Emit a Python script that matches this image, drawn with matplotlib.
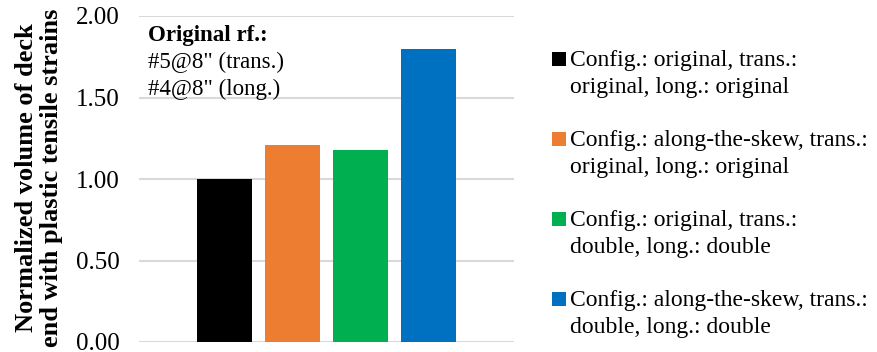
import matplotlib
matplotlib.use("Agg")
import matplotlib.pyplot as plt
from matplotlib.patches import Rectangle

plt.rcParams["font.family"] = ["Liberation Serif", "DejaVu Serif"]

# Data
configs = [
    "Config.: original, trans.:\noriginal, long.: original",
    "Config.: along-the-skew, trans.:\noriginal, long.: original",
    "Config.: original, trans.:\ndouble, long.: double",
    "Config.: along-the-skew, trans.:\ndouble, long.: double",
]
values = [1.00, 1.21, 1.18, 1.80]
colors = ["#000000", "#ED7D31", "#00B050", "#0070C0"]
yticks = [0.00, 0.50, 1.00, 1.50, 2.00]
ytick_labels = ["0.00", "0.50", "1.00", "1.50", "2.00"]
ylabel = "Normalized volume of deck\nend with plastic tensile strains"
note_title = "Original rf.:"
note_lines = ['#5@8" (trans.)', '#4@8" (long.)']

W, H = 878, 352
fs_note = 16.5
fs_leg = 17
fs_tick = 18
fs_ylab = 19
fig = plt.figure(figsize=(W / 100, H / 100), dpi=100)
ax = fig.add_axes([139 / W, 1 - 342 / H, 375 / W, 326 / H])

x = list(range(len(values)))
ax.bar(x, values, width=0.81, color=colors, zorder=3)
ax.set_xlim(-1.26, 4.26)
ax.set_ylim(0, 2.0)
ax.set_yticks(yticks)
ax.set_yticklabels(ytick_labels, fontsize=fs_tick)
ax.set_xticks([])
ax.tick_params(axis="y", length=0, pad=14)
for s in ax.spines.values():
    s.set_visible(False)
ax.yaxis.grid(True, color="#D9D9D9", linewidth=1.5, zorder=0)
ax.set_axisbelow(True)

fig.text(39 / W, 1 - 178 / H, ylabel, rotation=90, ha="center", va="center",
         fontsize=fs_ylab, fontweight="bold", multialignment="center", linespacing=1.15)

# Reinforcement note inside the axes
fig.text(148 / W, 1 - 25 / H, note_title, ha="left", va="top",
         fontsize=fs_note, fontweight="bold")
for i, line in enumerate(note_lines):
    fig.text(148 / W, 1 - (52 + 27 * i) / H, line, ha="left", va="top", fontsize=fs_note)

# Legend: square markers aligned with the first line of each entry
for i, (lab, col) in enumerate(zip(configs, colors)):
    top = 52 + 80 * i
    fig.patches.append(Rectangle((552 / W, 1 - (top + 14) / H), 14 / W, 14 / H,
                                 transform=fig.transFigure, facecolor=col,
                                 edgecolor="none"))
    fig.text(570 / W, 1 - (top - 2) / H, lab, ha="left", va="top",
             fontsize=fs_leg, linespacing=1.38)

fig.savefig("out.png", dpi=100)
